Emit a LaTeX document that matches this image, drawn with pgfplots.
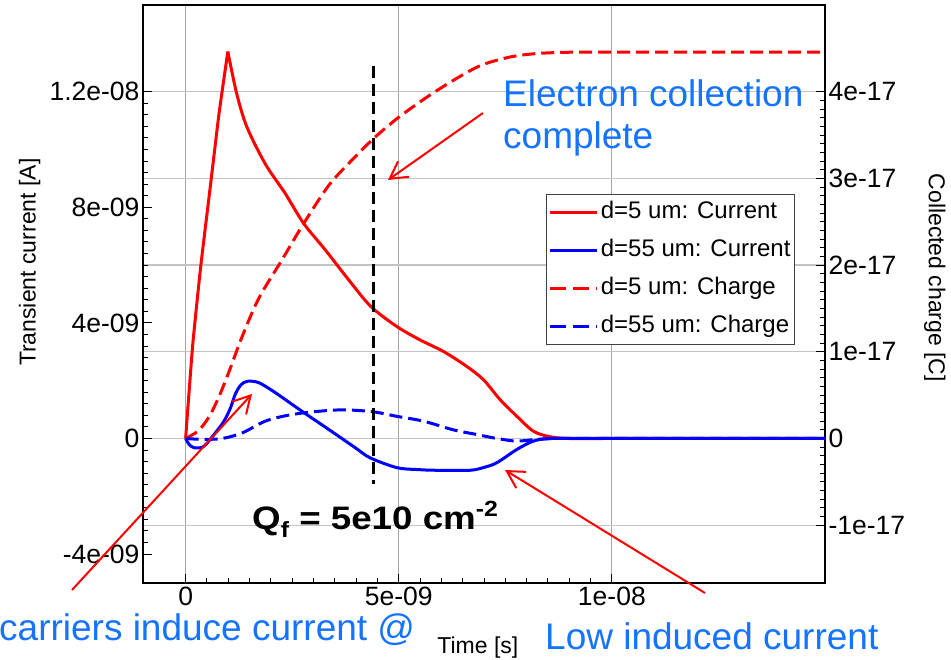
\documentclass[border=0pt]{standalone}
\usepackage{pgfplots}
\pgfplotsset{compat=1.18}
\usepackage{graphicx}
\usepackage{fontspec}
\setmainfont{Liberation Sans}
\usetikzlibrary{arrows.meta}
\definecolor{cred}{RGB}{255,0,0}
\definecolor{cblue}{RGB}{0,0,255}
\definecolor{annblue}{RGB}{20,115,255}
\definecolor{gridx}{RGB}{165,165,165}
\definecolor{gridy}{RGB}{195,195,195}
\pgfplotsset{
  common/.style={
    at={(143pt,77pt)}, anchor=south west,
    scale only axis, width=682pt, height=578pt,
    xmin=-1e-9, xmax=1.5e-8,
    scaled x ticks=false, scaled y ticks=false,
    tick align=inside,
    major tick length=9pt, minor tick length=5pt,
    every tick/.style={black, line width=1pt},
    axis line style={black, line width=1.5pt},
    tick label style={font=\fontsize{26.5}{26.5}\selectfont},
    label style={font=\fontsize{23}{23}\selectfont},
  }
}
\begin{document}
\begin{tikzpicture}[x=1pt,y=1pt]
\useasboundingbox (0,0) rectangle (951,660);
% right axis: collected charge
\begin{axis}[common,
  ymin=-1.6667e-17, ymax=5e-17,
  xtick={0,5e-9,1e-8}, xticklabels={}, x tick style={draw=none},
  xmajorgrids, ymajorgrids,
  x grid style={gridx, line width=1.2pt},
  y grid style={gridy, line width=1.2pt},
  ytick={-1e-17,0,1e-17,2e-17,3e-17,4e-17},
  yticklabels={-1e-17,0,1e-17,2e-17,3e-17,4e-17},
  minor y tick num=9,
  ytick pos=right, yticklabel pos=right,
  ylabel={Collected charge [C]},
  ylabel style={at={(axis description cs:1.161,0.528)}, anchor=center, rotate=180},
]
\addplot[cred, line width=3pt, dash pattern=on 13pt off 6pt, line join=round, smooth, tension=0.5] coordinates {
(0,0) (0.3e-9,0.09e-17) (0.55e-9,0.25e-17) (0.78e-9,0.48e-17) (1.01e-9,0.76e-17)
(1.33e-9,1.18e-17) (1.72e-9,1.62e-17) (2.26e-9,2.06e-17) (2.77e-9,2.48e-17)
(3.36e-9,2.92e-17) (3.9e-9,3.21e-17) (4.41e-9,3.46e-17) (4.96e-9,3.69e-17)
(5.58e-9,3.91e-17) (6.21e-9,4.11e-17) (6.91e-9,4.30e-17) (7.61e-9,4.40e-17)
(8.24e-9,4.44e-17) (9e-9,4.455e-17) (1.0e-8,4.455e-17) (1.5e-8,4.455e-17)
};
\addplot[cblue, line width=3pt, dash pattern=on 13pt off 6pt, line join=round, smooth, tension=0.5] coordinates {
(0,0) (0.4e-9,-0.01e-17) (0.86e-9,0) (1.33e-9,0.065e-17) (1.87e-9,0.2e-17)
(2.42e-9,0.27e-17) (3.04e-9,0.31e-17) (3.67e-9,0.33e-17) (4.37e-9,0.31e-17)
(4.96e-9,0.255e-17) (5.58e-9,0.2e-17) (6.28e-9,0.10e-17) (6.83e-9,0.046e-17)
(7.3e-9,0) (7.77e-9,-0.03e-17) (8.24e-9,-0.01e-17) (8.7e-9,0) (9.5e-9,0) (1.5e-8,0)
};
\end{axis}
% left axis: transient current
\begin{axis}[common,
  ymin=-5e-9, ymax=1.5e-8,
  xtick={0,5e-9,1e-8}, xticklabels={0,5e-09,1e-08},
  minor x tick num=9, xtick pos=bottom,
  ytick={-4e-9,0,4e-9,8e-9,1.2e-8},
  yticklabels={-4e-09,0,4e-09,8e-09,1.2e-08},
  minor y tick num=9, ytick pos=left,
  xlabel={Time [s]},
  xlabel style={at={(axis description cs:0.491,-0.111)}, anchor=center},
  ylabel={Transient current [A]},
  ylabel style={at={(axis description cs:-0.166,0.555)}, anchor=center},
  legend style={at={(axis description cs:0.956,0.673)}, anchor=north east,
    draw=black!75, line width=1pt, font=\fontsize{24}{24}\selectfont,
    row sep=12pt, inner xsep=2pt, inner ysep=5pt,
    nodes={inner sep=2pt, text height=17pt, text depth=5pt}},
  legend cell align=left,
  legend image code/.code={\draw[#1, line width=3pt] (0pt,0pt) -- (47pt,0pt);},
]
\addplot[cred, line width=3pt, line join=round, smooth, tension=0.5] coordinates {
(0.99e-9,13.39e-9) (1.2e-9,11.92e-9) (1.44e-9,10.77e-9)
(1.87e-9,9.5e-9) (2.34e-9,8.47e-9) (2.77e-9,7.44e-9) (3.28e-9,6.52e-9)
(3.83e-9,5.48e-9) (4.35e-9,4.56e-9) (4.96e-9,3.87e-9) (5.5e-9,3.41e-9)
(6.05e-9,3.01e-9) (6.6e-9,2.49e-9) (6.99e-9,2.03e-9) (7.38e-9,1.34e-9)
(7.77e-9,0.77e-9) (8.16e-9,0.25e-9) (8.55e-9,0.06e-9) (9e-9,0) (1.0e-8,0) (1.5e-8,0)
};
\addlegendentry{d=5 um: Current}
\addplot[cred, line width=3pt, line join=round, smooth, tension=0.3, forget plot] coordinates {
(0,0) (0.06e-9,1.2e-9) (0.17e-9,3.3e-9) (0.35e-9,5.9e-9) (0.59e-9,8.85e-9)
(0.78e-9,11.2e-9) (0.99e-9,13.39e-9)
};
\addplot[cblue, line width=3pt, line join=round, smooth, tension=0.5] coordinates {
(0,0) (0.08e-9,-0.2e-9) (0.2e-9,-0.32e-9) (0.43e-9,-0.27e-9) (0.7e-9,0.2e-9)
(0.9e-9,0.6e-9) (1.05e-9,1.05e-9) (1.17e-9,1.55e-9) (1.3e-9,1.86e-9) (1.45e-9,1.98e-9)
(1.72e-9,1.93e-9) (2.11e-9,1.58e-9) (2.73e-9,0.94e-9) (3.36e-9,0.31e-9) (3.98e-9,-0.32e-9)
(4.33e-9,-0.67e-9) (4.96e-9,-1.01e-9) (5.5e-9,-1.08e-9) (5.89e-9,-1.10e-9)
(6.67e-9,-1.10e-9) (7.0e-9,-1.0e-9) (7.3e-9,-0.84e-9) (7.77e-9,-0.38e-9)
(8.16e-9,-0.09e-9) (8.55e-9,0) (9.5e-9,0) (1.5e-8,0)
};
\addlegendentry{d=55 um: Current}
\addlegendimage{cred, dash pattern=on 16pt off 7pt}
\addlegendentry{d=5 um: Charge}
\addlegendimage{cblue, dash pattern=on 16pt off 7pt}
\addlegendentry{d=55 um: Charge}
\draw[black, line width=3pt, dash pattern=on 12pt off 6pt] (axis cs:4.4e-9,1.29e-8) -- (axis cs:4.4e-9,-1.59e-9);
\end{axis}
% annotations
\tikzset{ann/.style={anchor=base west, inner sep=0pt, text=annblue, font=\fontsize{37}{37}\selectfont},
         arr/.style={cred, line width=2pt, -{Straight Barb[length=17pt,width=19pt]}}}
\draw[arr] (483,547) -- (388,480);
\draw[arr] (72,70) -- (252,266);
\draw[arr] (705,67) -- (505,190);
\node[ann] at (503,553) {Electron collection};
\node[ann] at (503,511) {complete};
\node[ann] at (-1,19) {carriers induce current @};
\node[ann] at (545,10) {Low induced current};
\node[anchor=base west, inner sep=0pt, font=\bfseries\fontsize{32.5}{33}\selectfont] at (252,130)
  {\scalebox{1.13}[1]{Q\raisebox{-8pt}{\fontsize{22}{22}\selectfont f} = 5e10 cm\raisebox{13pt}{\fontsize{22}{22}\selectfont -2}}};
\end{tikzpicture}
\end{document}
